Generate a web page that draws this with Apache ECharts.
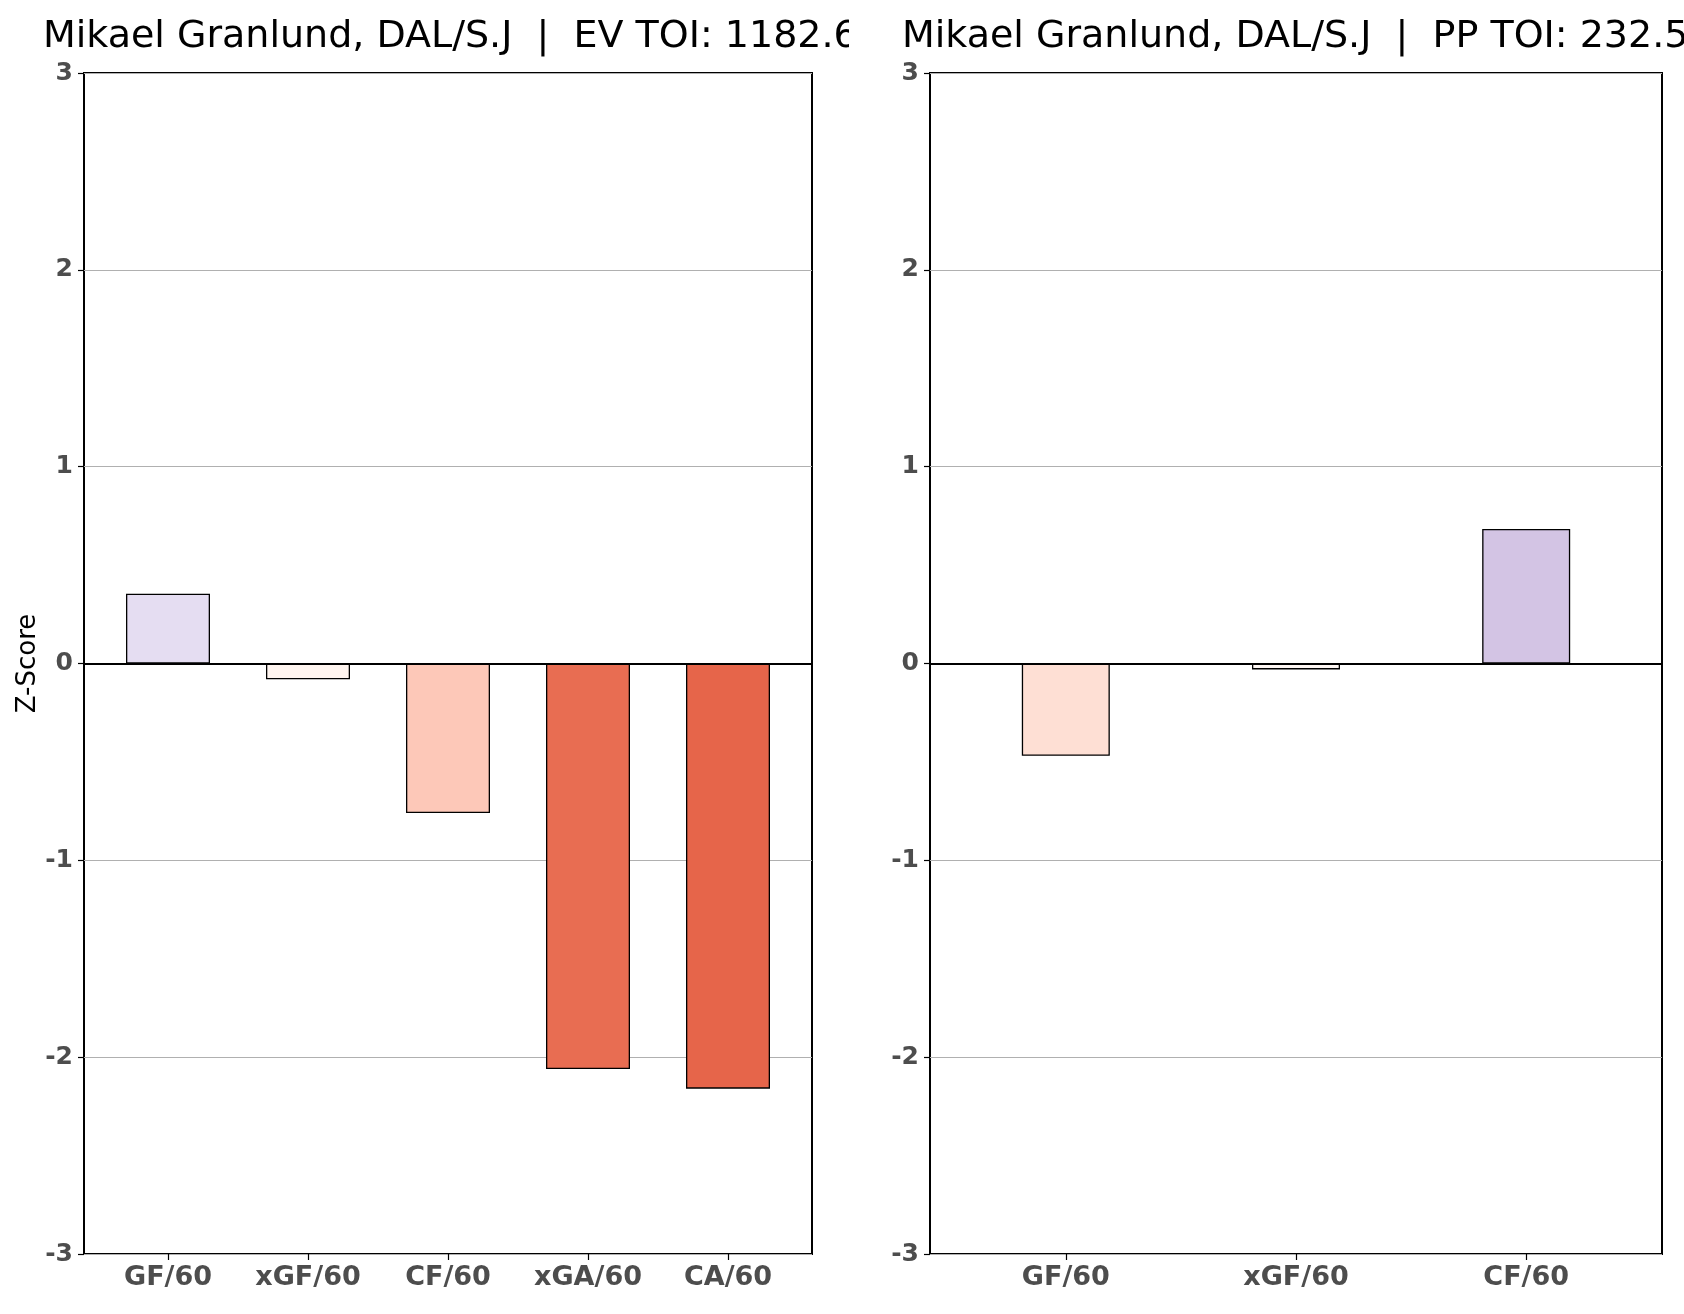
<!DOCTYPE html>
<html>
<head>
<meta charset="utf-8">
<script src="https://cdn.jsdelivr.net/npm/echarts@6/dist/echarts.min.js"></script>
<style>
  html, body { margin: 0; padding: 0; background: #fff; }
  #chart { width: 1684px; height: 1314px; }
</style>
</head>
<body>
<div id="chart"></div>
<script>
// even strength panel
var evCategories = ['GF/60', 'xGF/60', 'CF/60', 'xGA/60', 'CA/60'];
var evValues = [0.354, -0.08, -0.76, -2.06, -2.16];
var evColors = ['#e5ddf2', '#fff5f0', '#fdc8b8', '#e86d52', '#e6654a'];

// power play panel
var ppCategories = ['GF/60', 'xGF/60', 'CF/60'];
var ppValues = [-0.469, -0.03, 0.683];
var ppColors = ['#fedfd4', '#fff8f5', '#d3c4e4'];

var evTitle = 'Mikael Granlund, DAL/S.J  |  EV TOI: 1182.6';
var ppTitle = 'Mikael Granlund, DAL/S.J  |  PP TOI: 232.5';

var labelFont = { fontFamily: 'DejaVu Sans', fontWeight: 'bold', fontSize: 25, color: '#4d4d4d' };
var titleFont = { fontFamily: 'DejaVu Sans', fontWeight: 'normal', fontSize: 38, color: '#000' };

function barData(values, colors) {
    var out = [];
    for (var i = 0; i < values.length; i++) {
        out.push({ value: [i, values[i]], itemStyle: { color: colors[i] } });
    }
    return out;
}

function xAxisFor(idx, cats, min, max) {
    var idxs = cats.map(function (c, i) { return i; });
    return {
        gridIndex: idx,
        type: 'value',
        min: min,
        max: max,
        axisLine: { show: false, onZero: false },
        splitLine: { show: false },
        axisTick: { show: true, customValues: idxs, length: 6, lineStyle: { color: '#000', width: 1.2 } },
        axisLabel: Object.assign({}, labelFont, {
            customValues: idxs,
            margin: 10,
            fontSize: 27,
            formatter: function (v) { return cats[Math.round(v)]; }
        })
    };
}

function yAxisFor(idx, withName) {
    var ax = {
        gridIndex: idx,
        type: 'value',
        min: -3,
        max: 3,
        interval: 1,
        axisLine: { show: false, onZero: false },
        axisTick: { show: true, length: 6, lineStyle: { color: '#000', width: 1.2 } },
        axisLabel: Object.assign({ margin: 11 }, labelFont),
        splitLine: { show: true, lineStyle: { color: '#b0b0b0', width: 1 } }
    };
    if (withName) {
        ax.name = 'Z-Score';
        ax.nameLocation = 'middle';
        ax.nameGap = 43;
        ax.nameTextStyle = { fontFamily: 'DejaVu Sans', fontSize: 26, color: '#000' };
    }
    return ax;
}

function barSeries(idx, values, colors, width) {
    return {
        type: 'bar',
        xAxisIndex: idx,
        yAxisIndex: idx,
        barWidth: width,
        data: barData(values, colors),
        itemStyle: { borderColor: '#000', borderWidth: 1.3 },
        markLine: {
            silent: true,
            symbol: 'none',
            label: { show: false },
            lineStyle: { color: '#000', type: 'solid', width: 2.2 },
            data: [{ yAxis: 0 }]
        },
        animation: false
    };
}

var myChart = echarts.init(document.getElementById('chart'));
var option = {
    backgroundColor: '#fff',
    animation: false,
    title: [
        { text: evTitle, left: 38, top: 13, z: 2, textStyle: titleFont },
        { text: ppTitle, left: 897, top: 13, z: 8, textStyle: titleFont }
    ],
    graphic: [
        // the EV title runs into the PP title, as in the source figure
        { type: 'rect', z: 5, left: 849, top: 0, shape: { width: 46, height: 68 }, style: { fill: '#fff' } }
    ],
    grid: [
        { left: 84, top: 73, width: 728, height: 1181, show: true, borderColor: '#000', borderWidth: 2, backgroundColor: 'transparent' },
        { left: 930, top: 73, width: 732, height: 1181, show: true, borderColor: '#000', borderWidth: 2, backgroundColor: 'transparent' }
    ],
    xAxis: [
        xAxisFor(0, evCategories, -0.6, 4.6),
        xAxisFor(1, ppCategories, -0.59, 2.59)
    ],
    yAxis: [
        yAxisFor(0, true),
        yAxisFor(1, false)
    ],
    series: [
        barSeries(0, evValues, evColors, 84),
        barSeries(1, ppValues, ppColors, 88)
    ]
};
myChart.setOption(option);
</script>
</body>
</html>
